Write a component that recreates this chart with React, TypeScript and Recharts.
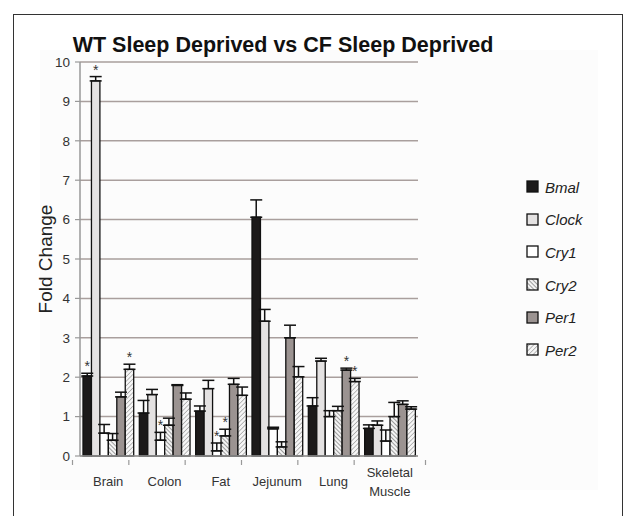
import React from 'react';
import { BarChart, Bar, XAxis, YAxis, CartesianGrid, ErrorBar, LabelList, Legend } from 'recharts';

const categories = ['Brain', 'Colon', 'Fat', 'Jejunum', 'Lung', 'Skeletal Muscle'];
const yTicks = [0, 1, 2, 3, 4, 5, 6, 7, 8, 9, 10];

const bmal = [2.03, 1.09, 1.14, 6.06, 1.27, 0.70];
const bmalErr = [0.07, 0.32, 0.13, 0.44, 0.21, 0.09];
const bmalStar = [true, false, false, false, false, false];

const clock = [9.52, 1.56, 1.71, 3.42, 2.41, 0.78];
const clockErr = [0.11, 0.13, 0.21, 0.30, 0.07, 0.11];
const clockStar = [true, false, false, false, false, false];

const cry1 = [0.58, 0.40, 0.13, 0.69, 1.00, 0.38];
const cry1Err = [0.22, 0.20, 0.20, 0.04, 0.15, 0.28];
const cry1Star = [false, true, true, false, false, false];

const cry2 = [0.40, 0.78, 0.51, 0.23, 1.15, 1.00];
const cry2Err = [0.17, 0.18, 0.17, 0.13, 0.11, 0.36];
const cry2Star = [false, false, true, false, false, false];

const per1 = [1.50, 1.79, 1.82, 3.00, 2.18, 1.31];
const per1Err = [0.12, 0.02, 0.15, 0.32, 0.05, 0.09];
const per1Star = [false, false, false, false, true, false];

const per2 = [2.20, 1.44, 1.54, 2.01, 1.89, 1.19];
const per2Err = [0.13, 0.16, 0.21, 0.26, 0.08, 0.06];
const per2Star = [true, false, false, false, true, false];

const seriesList = [
  { key: 'bmal', name: 'Bmal', values: bmal, err: bmalErr, star: bmalStar, fill: '#1c1a1a' },
  { key: 'clock', name: 'Clock', values: clock, err: clockErr, star: clockStar, fill: '#e4e2e2' },
  { key: 'cry1', name: 'Cry1', values: cry1, err: cry1Err, star: cry1Star, fill: '#ffffff' },
  { key: 'cry2', name: 'Cry2', values: cry2, err: cry2Err, star: cry2Star, fill: 'url(#hatchCry2)' },
  { key: 'per1', name: 'Per1', values: per1, err: per1Err, star: per1Star, fill: '#9b9391' },
  { key: 'per2', name: 'Per2', values: per2, err: per2Err, star: per2Star, fill: 'url(#hatchPer2)' },
];

const data = categories.map((c, i) => {
  const row: any = { name: c };
  seriesList.forEach((s) => {
    row[s.key] = s.values[i];
    row[s.key + 'Err'] = [0, s.err[i]];
  });
  return row;
});

const FONT = '"Liberation Sans", Arial, sans-serif';

const makeStar = (s: any) => (props: any) => {
  const { x, y, width, height, value, index } = props;
  if (!s.star[index]) return null;
  const errPx = (s.err[index] * height) / value;
  return (
    <text x={Number(x) + Number(width) / 2} y={Number(y) - errPx - 2} textAnchor="middle" fontSize={14} fill="#333" fontFamily={FONT}>
      *
    </text>
  );
};

const PLOT_LEFT = 80;
const PLOT_RIGHT = 508;
const band = (PLOT_RIGHT - PLOT_LEFT) / categories.length;

const XTick = (props: any) => {
  const { x, y, payload, index } = props;
  const words = String(payload.value).split(' ');
  const lines = words.length > 1 ? words : [payload.value];
  return (
    <g>
      <line x1={x - band / 2} x2={x - band / 2} y1={y - 4} y2={y + 1} stroke="#999" strokeWidth={1.2} />
      {index === categories.length - 1 && (
        <line x1={x + band / 2} x2={x + band / 2} y1={y - 4} y2={y + 1} stroke="#999" strokeWidth={1.2} />
      )}
      {lines.length === 1 ? (
        <text x={x} y={y + 22} textAnchor="middle" fontSize={13} fill="#333" fontFamily={FONT}>
          {lines[0]}
        </text>
      ) : (
        lines.map((l: string, i: number) => (
          <text key={i} x={x} y={y + 13 + i * 19} textAnchor="middle" fontSize={13} fill="#333" fontFamily={FONT}>
            {l}
          </text>
        ))
      )}
    </g>
  );
};

const LegendContent = () => (
  <div style={{ fontFamily: FONT }}>
    {seriesList.map((s) => (
      <div key={s.key} style={{ display: 'flex', alignItems: 'center', height: 32.6 }}>
        <svg width={14} height={14} style={{ marginRight: 5 }}>
          <rect x={1} y={1} width={11} height={11} fill={s.fill} stroke="#111" strokeWidth={1.3} />
        </svg>
        <span style={{ fontStyle: 'italic', fontSize: 15, color: '#222' }}>{s.name}</span>
      </div>
    ))}
  </div>
);

export default function App() {
  return (
    <div style={{ position: 'absolute', left: 0, top: 0, width: 627, height: 516, background: '#fff', overflow: 'hidden' }}>
      <div style={{ position: 'absolute', left: 13, top: 14, width: 610, height: 520, border: '1.5px solid #333', boxSizing: 'border-box' }} />
      <div style={{ position: 'absolute', left: 40, top: 50, width: 558, height: 440, background: '#fcfcfc' }} />
      <div
        style={{
          position: 'absolute',
          left: 0,
          width: 566,
          top: 32,
          textAlign: 'center',
          fontFamily: FONT,
          fontWeight: 'bold',
          fontSize: 21.5,
          color: '#111',
          lineHeight: '26px',
        }}
      >
        WT Sleep Deprived vs CF Sleep Deprived
      </div>
      <div style={{ position: 'absolute', left: 0, top: 0 }}>
        <BarChart
          width={627}
          height={516}
          data={data}
          margin={{ top: 62, right: 119, bottom: 30, left: 0 }}
          barCategoryGap="8%"
          barGap={0}
        >
          <defs>
            <pattern id="hatchCry2" width={3} height={3} patternUnits="userSpaceOnUse" patternTransform="rotate(-45)">
              <rect width={3} height={3} fill="#f4f4f4" />
              <line x1={0} y1={0} x2={0} y2={3} stroke="#6e6e6e" strokeWidth={1.3} />
            </pattern>
            <pattern id="hatchPer2" width={3.2} height={3.2} patternUnits="userSpaceOnUse" patternTransform="rotate(45)">
              <rect width={3.2} height={3.2} fill="#f6f6f6" />
              <line x1={0} y1={0} x2={0} y2={3.2} stroke="#8f8f8f" strokeWidth={1.2} />
            </pattern>
          </defs>
          <CartesianGrid vertical={false} stroke="#a99f9d" strokeWidth={1.5} />
          <XAxis
            dataKey="name"
            height={30}
            axisLine={{ stroke: '#999', strokeWidth: 1.5 }}
            tickLine={false}
            tick={<XTick />}
            interval={0}
          />
          <YAxis
            width={80}
            domain={[0, 10]}
            ticks={yTicks}
            interval={0}
            axisLine={{ stroke: '#999', strokeWidth: 1.5 }}
            tickLine={{ stroke: '#999', strokeWidth: 1.2 }}
            tickSize={5}
            tick={{ fontSize: 13.5, fill: '#333', fontFamily: FONT, dx: -3 }}
            label={{
              value: 'Fold Change',
              angle: -90,
              position: 'insideLeft',
              dx: 40,
              style: { fontSize: 19, fill: '#222', fontFamily: FONT, textAnchor: 'middle' },
            }}
          />
          <Legend
            layout="vertical"
            verticalAlign="top"
            align="right"
            wrapperStyle={{ position: 'absolute', left: 526, top: 171, width: 90 }}
            content={<LegendContent />}
          />
          {seriesList.map((s) => (
            <Bar key={s.key} dataKey={s.key} name={s.name} fill={s.fill} stroke="#111" strokeWidth={1.3} barSize={10} isAnimationActive={false}>
              <ErrorBar dataKey={s.key + 'Err'} width={6} stroke="#111" strokeWidth={1.5} direction="y" />
              <LabelList dataKey={s.key} content={makeStar(s)} />
            </Bar>
          ))}
        </BarChart>
      </div>
    </div>
  );
}
